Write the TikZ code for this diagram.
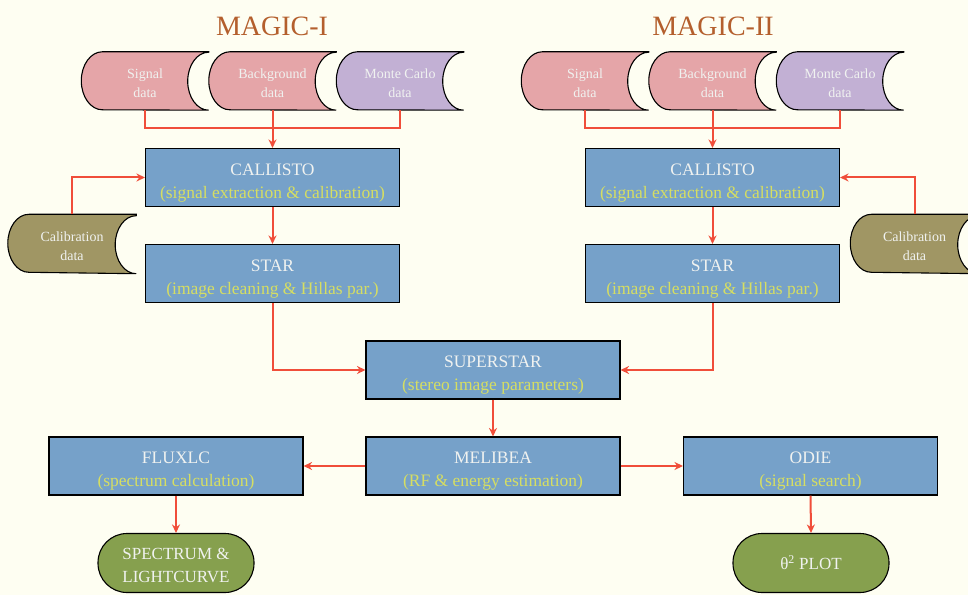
\documentclass[tikz,border=0pt]{standalone}
\usepackage{fontspec}
\setmainfont{Liberation Serif}
\usetikzlibrary{arrows.meta}
\pgfdeclarelayer{background}
\pgfsetlayers{background,main}
\definecolor{bgc}{RGB}{254,254,242}
\definecolor{boxblue}{RGB}{118,161,201}
\definecolor{boxtext}{RGB}{240,242,240}
\definecolor{subcol}{RGB}{214,222,98}
\definecolor{pinkc}{RGB}{229,165,168}
\definecolor{purplec}{RGB}{194,176,212}
\definecolor{olivec}{RGB}{160,150,100}
\definecolor{termgreen}{RGB}{134,160,78}
\definecolor{arrowred}{RGB}{240,78,58}
\definecolor{titlec}{RGB}{180,95,45}
\newcommand\subtxt[1]{{\color{subcol}#1}}
\newcommand\tp[1]{\rule{0pt}{#1}}
\newcommand\tapedraw[2]{%
  \begin{pgfonlayer}{background}
  \draw[line width=1.1pt, fill=#2] (#1.north east) -- ([xshift=21pt]#1.north west)
    arc[start angle=90,end angle=270,x radius=21pt,y radius=29pt]
    -- (#1.south east)
    arc[start angle=270,end angle=90,x radius=21pt,y radius=29pt] -- cycle;
  \end{pgfonlayer}}
\tikzset{
  proc/.style={rectangle, draw=black, line width=1.1pt, fill=boxblue,
    minimum width=254pt, minimum height=58pt, align=center, text=boxtext,
    font=\fontsize{17.5}{23}\selectfont, inner sep=0pt},
  tape/.style={rectangle, minimum width=127pt, minimum height=58pt,
    align=center, text=boxtext, font=\fontsize{14}{19}\selectfont, inner sep=0pt},
  term/.style={rectangle, rounded corners=29pt, draw=black, line width=1.1pt,
    fill=termgreen, minimum width=156pt, minimum height=59pt, align=center,
    text=boxtext, font=\fontsize{17}{23}\selectfont, inner sep=0pt},
  titlestyle/.style={text=titlec, font=\fontsize{28}{30}\selectfont, inner sep=0pt},
  conn/.style={draw=arrowred, line width=2pt},
  arr/.style={conn, -{Stealth[length=8.5pt,width=8pt]}},
}
\begin{document}
\begin{tikzpicture}[x=1pt,y=1pt]
\useasboundingbox (0,0) rectangle (968,595);
\begin{pgfonlayer}{background}
\fill[bgc] (0,0) rectangle (968,595);
\end{pgfonlayer}

% titles
\node[titlestyle] (t1) at (272,569) {MAGIC-I};
\node[titlestyle] (t2) at (713,569) {MAGIC-II};

% data tapes
\node[tape] (sig1) at (145,514) {\tp{13.5pt}Signal\\data};
\node[tape] (bg1) at (272.5,514) {\tp{13.5pt}Background\\data};
\node[tape] (mc1) at (400,514) {\tp{13.5pt}Monte Carlo\\data};
\node[tape] (sig2) at (585,514) {\tp{13.5pt}Signal\\data};
\node[tape] (bg2) at (712.5,514) {\tp{13.5pt}Background\\data};
\node[tape] (mc2) at (840,514) {\tp{13.5pt}Monte Carlo\\data};
\node[tape, minimum width=128pt, minimum height=59pt] (cal1) at (72,351) {\tp{13.5pt}Calibration\\data};
\node[tape, minimum width=128pt, minimum height=59pt] (cal2) at (914.5,351) {\tp{13.5pt}Calibration\\data};
\tapedraw{sig1}{pinkc}
\tapedraw{bg1}{pinkc}
\tapedraw{mc1}{purplec}
\tapedraw{sig2}{pinkc}
\tapedraw{bg2}{pinkc}
\tapedraw{mc2}{purplec}
\tapedraw{cal1}{olivec}
\tapedraw{cal2}{olivec}

% process boxes
\node[proc] (cal1box) at (272.5,417.5) {\tp{22.5pt}CALLISTO\\\subtxt{(signal extraction \& calibration)}};
\node[proc] (star1) at (272.5,321.5) {\tp{22.5pt}STAR\\\subtxt{(image cleaning \& Hillas par.)}};
\node[proc] (cal2box) at (712.5,417.5) {\tp{22.5pt}CALLISTO\\\subtxt{(signal extraction \& calibration)}};
\node[proc] (star2) at (712.5,321.5) {\tp{22.5pt}STAR\\\subtxt{(image cleaning \& Hillas par.)}};
\node[proc] (super) at (493,225) {\tp{22.5pt}SUPERSTAR\\\subtxt{(stereo image parameters)}};
\node[proc] (meli) at (493,129) {\tp{22.5pt}MELIBEA\\\subtxt{(RF \& energy estimation)}};
\node[proc] (flux) at (176,129) {\tp{22.5pt}FLUXLC\\\subtxt{(spectrum calculation)}};
\node[proc] (odie) at (810.5,129) {\tp{22.5pt}ODIE\\\subtxt{(signal search)}};

% terminals
\node[term] (spec) at (176,32) {\tp{15.5pt}SPECTRUM \&\\LIGHTCURVE};
\node[term] (theta) at (811,32) {θ\textsuperscript{2} PLOT};

% connectors
\coordinate (j1) at (272.5,467);
\coordinate (j2) at (712.5,467);
\draw[conn] (sig1.south) |- (j1) -| (mc1.south);
\draw[arr] (bg1.south) -- (cal1box.north);
\draw[conn] (sig2.south) |- (j2) -| (mc2.south);
\draw[arr] (bg2.south) -- (cal2box.north);
\draw[arr] (cal1.north) |- (cal1box.west);
\draw[arr] (cal2.north) |- (cal2box.east);
\draw[arr] (cal1box.south) -- (star1.north);
\draw[arr] (cal2box.south) -- (star2.north);
\draw[arr] (star1.south) |- (super.west);
\draw[arr] (star2.south) |- (super.east);
\draw[arr] (super.south) -- (meli.north);
\draw[arr] (meli.west) -- (flux.east);
\draw[arr] (meli.east) -- (odie.west);
\draw[arr] (flux.south) -- (spec.north);
\draw[arr] (odie.south) -- (theta.north);
\end{tikzpicture}
\end{document}
